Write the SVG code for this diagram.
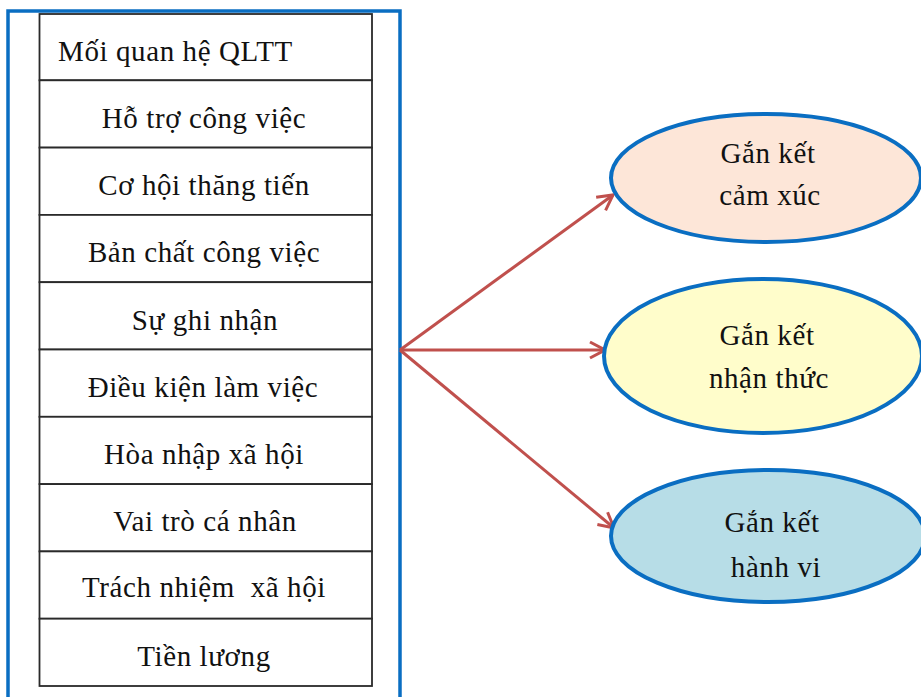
<svg xmlns="http://www.w3.org/2000/svg" width="921" height="697" viewBox="0 0 921 697">
<style>
.t{font-family:"Liberation Serif","DejaVu Serif",serif;font-size:29px;letter-spacing:0.6px;fill:#111;text-anchor:middle;white-space:pre}
.row{fill:#fff;stroke:#2a2a2a;stroke-width:1.8}
.ell{stroke:#0A6EC2;stroke-width:4}
.conn{stroke:#C0504D;stroke-width:3;fill:none}
</style>
<defs>
<marker id="arr" viewBox="0 0 20 20" refX="18" refY="10" markerWidth="20" markerHeight="20" markerUnits="userSpaceOnUse" orient="auto">
<path d="M3,2 L18,10 L3,18" fill="none" stroke="#C0504D" stroke-width="3"/>
</marker>
</defs>
<rect width="921" height="697" fill="#fff"/>
<g id="frame">
<rect x="8" y="11" width="392" height="700" fill="#fff" stroke="#0A6EC2" stroke-width="3.5"/>
</g>
<g id="table">
<g id="r1"><rect class="row" x="39.5" y="14" width="332.5" height="66.3"/><text class="t" x="58" y="61" style="text-anchor:start">Mối quan hệ QLTT</text></g>
<g id="r2"><rect class="row" x="39.5" y="80.3" width="332.5" height="67.3"/><text class="t" x="204" y="128">Hỗ trợ công việc</text></g>
<g id="r3"><rect class="row" x="39.5" y="147.6" width="332.5" height="67.3"/><text class="t" x="204" y="195">Cơ hội thăng tiến</text></g>
<g id="r4"><rect class="row" x="39.5" y="214.9" width="332.5" height="67.3"/><text class="t" x="204" y="262">Bản chất công việc</text></g>
<g id="r5"><rect class="row" x="39.5" y="282.2" width="332.5" height="67.3"/><text class="t" x="205" y="330">Sự ghi nhận</text></g>
<g id="r6"><rect class="row" x="39.5" y="349.5" width="332.5" height="67.3"/><text class="t" x="203" y="397">Điều kiện làm việc</text></g>
<g id="r7"><rect class="row" x="39.5" y="416.8" width="332.5" height="67.3"/><text class="t" x="204" y="464">Hòa nhập xã hội</text></g>
<g id="r8"><rect class="row" x="39.5" y="484.1" width="332.5" height="67.3"/><text class="t" x="205" y="531">Vai trò cá nhân</text></g>
<g id="r9"><rect class="row" x="39.5" y="551.4" width="332.5" height="67.3"/><text class="t" x="204" y="597">Trách nhiệm  xã hội</text></g>
<g id="r10"><rect class="row" x="39.5" y="618.7" width="332.5" height="67.3"/><text class="t" x="204" y="666">Tiền lương</text></g>
</g>
<g id="connectors">
<line class="conn" x1="400" y1="350" x2="613" y2="195" marker-end="url(#arr)"/>
<line class="conn" x1="400" y1="350" x2="605" y2="350" marker-end="url(#arr)"/>
<line class="conn" x1="400" y1="350" x2="614" y2="528" marker-end="url(#arr)"/>
</g>
<g id="e1">
<ellipse class="ell" cx="766" cy="178" rx="155" ry="64" fill="#FDE6D8"/>
<text class="t" x="768" y="163">Gắn kết</text>
<text class="t" x="770" y="205">cảm xúc</text>
</g>
<g id="e2">
<ellipse class="ell" cx="763" cy="356" rx="159" ry="77" fill="#FFFDCB"/>
<text class="t" x="767" y="345">Gắn kết</text>
<text class="t" x="769" y="388">nhận thức</text>
</g>
<g id="e3">
<ellipse class="ell" cx="768" cy="536" rx="157" ry="66" fill="#B7DDE7"/>
<text class="t" x="772" y="532">Gắn kết</text>
<text class="t" x="776" y="577">hành vi</text>
</g>
</svg>
